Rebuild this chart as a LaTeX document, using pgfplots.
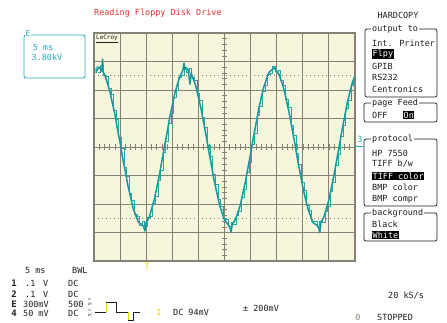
\documentclass[border=0pt]{standalone}
\usepackage{pgfplots}
\pgfplotsset{compat=1.18}
\usepackage{pgfplotstable}
\usepackage{fontspec}
\setmainfont{DejaVu Sans Mono}
\setmonofont{DejaVu Sans Mono}
\definecolor{scrbg}{RGB}{247,245,220}
\definecolor{gridc}{RGB}{132,130,118}
\definecolor{trace}{RGB}{36,166,170}
\definecolor{traced}{RGB}{20,140,146}
\definecolor{ttl}{RGB}{228,48,52}
\definecolor{boxc}{RGB}{40,170,192}
\definecolor{trig}{RGB}{226,220,0}
\definecolor{txt}{RGB}{30,30,30}
\newcommand{\fs}{\fontsize{8.5}{9}\selectfont}
\pgfplotstableread{
d y
0.08 2.60
0.10 2.72
0.20 2.80
0.30 2.66
0.33 3.10
0.35 2.62
0.40 2.56
0.50 2.28
0.60 1.98
0.70 1.55
0.80 1.16
0.90 0.62
1.00 0.15
1.10 -0.40
1.20 -0.86
1.30 -1.36
1.40 -1.75
1.50 -2.15
1.60 -2.40
1.70 -2.64
1.80 -2.70
1.90 -2.78
1.95 -2.95
2.00 -2.64
2.10 -2.50
2.20 -2.20
2.30 -1.88
2.40 -1.45
2.50 -1.02
2.60 -0.49
2.70 0.02
2.80 0.50
2.90 1.03
3.00 1.46
3.10 1.90
3.20 2.21
3.30 2.50
3.40 2.68
3.45 2.95
3.47 2.70
3.50 2.80
3.60 2.72
3.68 2.20
3.72 2.60
3.80 2.40
3.90 2.14
4.00 1.75
4.10 1.35
4.20 0.86
4.30 0.38
4.40 -0.16
4.50 -0.64
4.60 -1.16
4.70 -1.58
4.80 -2.00
4.90 -2.29
5.00 -2.56
5.10 -2.68
5.20 -2.80
5.25 -3.00
5.30 -2.70
5.40 -2.58
5.50 -2.33
5.60 -2.05
5.70 -1.64
5.80 -1.22
5.90 -0.72
6.00 -0.24
6.10 0.30
6.20 0.78
6.30 1.28
6.40 1.70
6.50 2.09
6.60 2.36
6.70 2.61
6.80 2.70
6.90 2.78
7.00 2.66
7.10 2.53
7.20 2.25
7.30 1.95
7.40 1.52
7.50 1.10
7.60 0.58
7.70 0.10
7.80 -0.44
7.90 -0.92
8.00 -1.41
8.10 -1.80
8.20 -2.18
8.30 -2.43
8.40 -2.66
8.50 -2.72
8.60 -2.80
8.65 -3.00
8.70 -2.62
8.80 -2.47
8.90 -2.17
9.00 -1.85
9.10 -1.41
9.20 -0.96
9.30 -0.45
9.40 0.05
9.50 0.58
9.60 1.05
9.70 1.53
9.80 1.91
9.90 2.27
10.00 2.50
}\wave
\pgfplotstableread{
d y
0.15 2.62
0.25 2.85
0.35 2.50
0.45 2.47
0.55 2.05
0.65 1.85
0.75 1.28
0.85 0.95
0.95 0.32
1.05 -0.05
1.15 -0.70
1.25 -1.05
1.35 -1.63
1.45 -1.88
1.55 -2.36
1.65 -2.45
1.75 -2.76
1.85 -2.62
1.95 -2.80
2.05 -2.48
2.15 -2.42
2.25 -1.97
2.35 -1.75
2.45 -1.16
2.55 -0.83
2.65 -0.18
2.75 0.19
2.85 0.84
2.95 1.17
3.05 1.75
3.15 1.98
3.25 2.43
3.35 2.50
3.45 2.78
3.55 2.62
3.65 2.75
3.75 2.44
3.85 2.34
3.95 1.87
4.05 1.62
4.15 1.03
4.25 0.68
4.35 0.04
4.45 -0.34
4.55 -0.97
4.65 -1.30
4.75 -1.85
4.85 -2.08
4.95 -2.50
5.05 -2.54
5.15 -2.80
5.25 -2.64
5.35 -2.72
5.45 -2.39
5.55 -2.26
5.65 -1.77
5.75 -1.50
5.85 -0.90
5.95 -0.55
6.05 0.10
6.15 0.47
6.25 1.10
6.35 1.42
6.45 1.96
6.55 2.16
6.65 2.56
6.75 2.58
6.85 2.82
6.95 2.64
7.05 2.67
7.15 2.32
7.25 2.17
7.35 1.66
7.45 1.38
7.55 0.77
7.65 0.41
7.75 -0.24
7.85 -0.61
7.95 -1.23
8.05 -1.53
8.15 -2.06
8.25 -2.23
8.35 -2.61
8.45 -2.60
8.55 -2.83
8.65 -2.62
8.75 -2.63
8.85 -2.25
8.95 -2.08
9.05 -1.55
9.15 -1.26
9.25 -0.63
9.35 -0.27
9.45 0.38
9.55 0.74
9.65 1.36
9.75 1.65
9.85 2.15
9.95 2.31
}\wavenoise
\begin{document}
\begin{tikzpicture}[x=1bp,y=1bp]
\path[use as bounding box, fill=white] (0,0) rectangle (447,322);
\begin{axis}[at={(94bp,61bp)}, anchor=south west, scale only axis,
  width=261bp, height=228bp, xmin=0, xmax=10, ymin=-4, ymax=4,
  axis background/.style={fill=scrbg},
  xtick={0,...,10}, ytick={-4,...,4}, xticklabels={}, yticklabels={},
  major tick length=0pt, grid=major,
  grid style={gridc, line width=1bp},
  axis line style={gridc, line width=1.3bp}]
\draw[gridc, line width=0.9bp, dash pattern=on 1.2bp off 2.8bp] (axis cs:0,2.5) -- (axis cs:10,2.5);
\draw[gridc, line width=0.9bp, dash pattern=on 1.2bp off 2.8bp] (axis cs:0,-2.5) -- (axis cs:10,-2.5);
\pgfplotsinvokeforeach{0.2,0.4,...,9.9}{\draw[gridc, line width=0.6bp] (axis cs:#1,-0.1) -- (axis cs:#1,0.1);}
\pgfplotsinvokeforeach{-3.8,-3.6,...,3.9}{\draw[gridc, line width=0.6bp] (axis cs:4.9,#1) -- (axis cs:5.1,#1);}
\addplot[trace, line width=1.6bp, line join=bevel] table[x=d, y=y] {\wave};
\addplot[trace, line width=0.9bp, const plot] table[x=d, y=y] {\wavenoise};
\addplot[traced, line width=0.45bp] table[x=d, y=y] {\wave};
\end{axis}
\begin{scope}[shift={(0,322)}, yscale=-1, font=\fs, every node/.style={inner sep=0pt}]
\node[ttl, anchor=west] at (94,13) {Reading Floppy Disk Drive};
% left box
\draw[boxc, line width=0.9bp, rounded corners=2bp] (24,35) rectangle (85,78);
\node[boxc, fill=white, inner sep=0.5bp, font=\fontsize{8}{8}\selectfont] at (28,34) {E};
\node[boxc] at (43,47) {5 ms};
\node[boxc] at (47,57) {3.80kV};
\node[anchor=west, txt, font=\fontsize{6}{6}\selectfont] at (96,39) {\underline{LeCroy}};
\node[trace, font=\fontsize{7}{7}\selectfont] at (97,69) {4};
\node[trace] at (360,139) {3};
\draw[trace, line width=1bp] (355,146) -- (363,146);
% right menu
\node[txt] at (398,15) {HARDCOPY};
\draw[txt, line width=0.7bp, rounded corners=2bp] (365,29) rectangle (437,97);
\node[txt, fill=white, inner xsep=1bp, anchor=west] at (371,29) {output to};
\node[txt, anchor=west] at (372,43) {Int. Printer};
\node[fill=black, text=white, anchor=west, inner xsep=0.5bp, inner ysep=1bp] at (372,54) {Flpy};
\node[txt, anchor=west] at (372,66) {GPIB};
\node[txt, anchor=west] at (372,77) {RS232};
\node[txt, anchor=west] at (372,89) {Centronics};
\draw[txt, line width=0.7bp, rounded corners=2bp] (364,103) rectangle (437,122);
\node[txt, fill=white, inner xsep=1bp, anchor=west] at (371,103) {page Feed};
\node[txt, anchor=west] at (372,115) {OFF};
\node[fill=black, text=white, anchor=west, inner xsep=0.5bp, inner ysep=1bp] at (403,115) {On};
\draw[txt, line width=0.7bp, rounded corners=2bp] (364,139) rectangle (437,206);
\node[txt, fill=white, inner xsep=1bp, anchor=west] at (371,139) {protocol};
\node[txt, anchor=west] at (372,153) {HP 7550};
\node[txt, anchor=west] at (372,164) {TIFF b/w};
\node[fill=black, text=white, anchor=west, inner xsep=0.5bp, inner ysep=1bp] at (372,176) {TIFF color};
\node[txt, anchor=west] at (372,187) {BMP color};
\node[txt, anchor=west] at (372,199) {BMP compr};
\draw[txt, line width=0.7bp, rounded corners=2bp] (364,213) rectangle (437,241);
\node[txt, fill=white, inner xsep=1bp, anchor=west] at (371,213) {background};
\node[txt, anchor=west] at (372,224) {Black};
\node[fill=black, text=white, anchor=west, inner xsep=0.5bp, inner ysep=1bp] at (372,235) {White};
% bottom
\node[trig, font=\fontsize{9}{9}\selectfont] at (147,266) {T};
\node[txt, anchor=west] at (25,270) {5 ms};
\node[txt, anchor=west] at (72,270) {BWL};
\foreach \n/\yy in {1/283,2/294,E/304,4/313}{\node[txt, font=\bfseries\fontsize{9}{9}\selectfont] at (14,\yy) {\n};}
\node[txt, anchor=west] at (25,283) {.1};
\node[txt, anchor=west] at (43,283) {V};
\node[txt, anchor=west] at (68,283) {DC};
\node[txt, anchor=west] at (25,294) {.1};
\node[txt, anchor=west] at (43,294) {V};
\node[txt, anchor=west] at (68,294) {DC};
\node[txt, anchor=west] at (23,304) {300mV};
\node[txt, anchor=west] at (68,304) {500};
\node[txt, anchor=west, font=\fontsize{3.2}{3.2}\selectfont] at (87.5,302) {\shortstack{Ω\\1M}};
\node[txt, anchor=west] at (23,313) {50 mV};
\node[txt, anchor=west] at (68,313) {DC};
\node[txt, anchor=west, font=\fontsize{3.2}{3.2}\selectfont] at (87.5,313) {\shortstack{Ω\\1M}};
\draw[txt, line width=0.6bp] (95,312) -- (106,312);
\draw[trig, line width=0.9bp] (106,312) -- (106,302);
\draw[txt, line width=0.6bp] (106,302) -- (116,302) -- (116,312) -- (128,312);
\draw[trig, line width=0.9bp] (128,312) -- (128,320);
\draw[txt, line width=0.6bp] (128,320) -- (133,320) -- (133,312) -- (140,312);
\node[trig] at (159,312) {1};
\node[txt, anchor=west] at (173,312) {DC 94mV};
\node[txt, anchor=west] at (243,308) {± 200mV};
\node[txt, anchor=west] at (388,296) {20 kS/s};
\node[gridc] at (358,317) {0};
\node[txt, anchor=west] at (377,317) {STOPPED};
\end{scope}
\end{tikzpicture}
\end{document}
